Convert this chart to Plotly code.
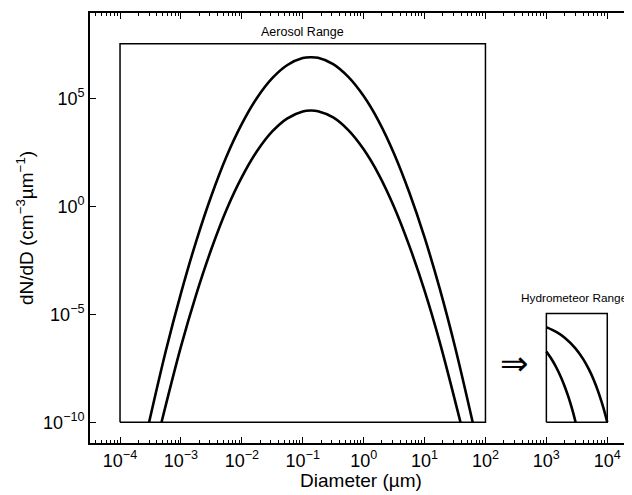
import math
import plotly.graph_objects as go

# ---- data (diameter in µm, dN/dD in cm^-3 µm^-1) ----
aer_upper_d = [3.0e-4, 5.6e-4, 1.0e-3, 1.78e-3, 3.16e-3, 5.6e-3, 1.0e-2, 1.78e-2, 3.16e-2,
               5.6e-2, 0.10, 0.136, 0.178, 0.316, 0.56, 1.0, 1.78, 3.16, 5.6, 10.0, 17.8, 31.6, 61.7]
aer_upper_n = [1e-10, 1.86e-7, 9.5e-5, 0.0245, 3.16, 209, 6760, 1.10e5, 8.9e5,
               3.63e6, 7.6e6, 8.3e6, 7.8e6, 4.0e6, 1.02e6, 1.32e5, 8710, 282, 4.57, 0.037, 1.51e-4, 3.16e-7, 1e-10]

aer_lower_d = [4.8e-4, 1.0e-3, 1.78e-3, 3.16e-3, 5.6e-3, 1.0e-2, 1.78e-2, 3.16e-2, 5.6e-2,
               0.10, 0.136, 0.178, 0.316, 0.56, 1.0, 1.78, 3.16, 5.6, 10.0, 17.8, 38.9]
aer_lower_n = [1e-10, 3.2e-7, 8.3e-5, 0.0107, 0.71, 22.9, 372, 3020, 1.23e4,
               2.57e4, 2.82e4, 2.63e4, 1.35e4, 3470, 447, 29.5, 0.955, 0.0155, 1.26e-4, 5.1e-7, 1e-10]

hyd_upper_d = [1000, 1500, 2000, 3000, 4000, 5000, 6000, 7000, 8000, 9000, 10000]
hyd_upper_n = [2.57e-6, 1.46e-6, 8.3e-7, 2.69e-7, 8.7e-8, 2.82e-8, 9.1e-9, 2.95e-9, 9.5e-10, 3.1e-10, 1e-10]

hyd_lower_d = [1000, 1250, 1500, 1750, 2000, 2250, 2500, 2750, 3020]
hyd_lower_n = [1.9e-7, 7.5e-8, 2.95e-8, 1.16e-8, 4.57e-9, 1.8e-9, 7.1e-10, 2.8e-10, 1e-10]

aerosol_box_x = [1e-4, 1e2]
aerosol_box_y = [1e-10, 3.5e7]
hydro_box_x = [1e3, 1e4]
hydro_box_y = [1e-10, 1.1e-5]

x_tick_exps = [-4, -3, -2, -1, 0, 1, 2, 3, 4]
y_tick_exps = [-10, -5, 0, 5]

# ---------------------------------------------------------------------------
FONT = "Liberation Sans, Arial, sans-serif"
fig = go.Figure()


def box_xy(bx, by):
    return ([bx[0], bx[1], bx[1], bx[0], bx[0]],
            [by[0], by[0], by[1], by[1], by[0]])


for bx, by in [(aerosol_box_x, aerosol_box_y), (hydro_box_x, hydro_box_y)]:
    xs, ys = box_xy(bx, by)
    fig.add_trace(go.Scatter(x=xs, y=ys, mode="lines",
                             line=dict(color="black", width=1.5),
                             hoverinfo="skip", showlegend=False))

for xs, ys in [(aer_upper_d, aer_upper_n), (aer_lower_d, aer_lower_n),
               (hyd_upper_d, hyd_upper_n), (hyd_lower_d, hyd_lower_n)]:
    fig.add_trace(go.Scatter(x=xs, y=ys, mode="lines",
                             line=dict(color="black", width=2.6, shape="spline", smoothing=1.0),
                             showlegend=False))


def sup(e):
    return "10<sup>" + ("\u2212" + str(-e) if e < 0 else str(e)) + "</sup>"


minor_x = [m * 10.0 ** k for k in range(-5, 5) for m in range(2, 10)]

fig.update_xaxes(
    type="log", range=[-4.493, 4.406],
    tickmode="array", tickvals=[10.0 ** e for e in x_tick_exps],
    ticktext=[sup(e) for e in x_tick_exps],
    ticks="inside", ticklen=6, tickwidth=1, tickcolor="black",
    minor=dict(tickmode="array", tickvals=minor_x, ticks="inside", ticklen=3,
               tickwidth=1, tickcolor="black", showgrid=False),
    showline=True, linecolor="black", linewidth=1.8, mirror="allticks",
    showgrid=False, zeroline=False,
    tickfont=dict(family=FONT, size=18, color="black"),
    title=dict(text="Diameter (\u00b5m)", font=dict(family=FONT, size=19, color="black"), standoff=0),
)
fig.update_yaxes(
    type="log", range=[-10.96, 8.97],
    tickmode="array", tickvals=[10.0 ** e for e in y_tick_exps],
    ticktext=[sup(e) for e in y_tick_exps],
    ticks="inside", ticklen=6, tickwidth=1, tickcolor="black",
    showline=True, linecolor="black", linewidth=1.8, mirror=False,
    showgrid=False, zeroline=False,
    tickfont=dict(family=FONT, size=18, color="black"),
    title=dict(text="dN/dD (cm<sup>\u22123</sup>\u00b5m<sup>\u22121</sup>)",
               font=dict(family=FONT, size=19, color="black"), standoff=4),
)

fig.add_annotation(x=-1.0, y=8.11, xref="x", yref="y", text="Aerosol Range",
                   showarrow=False, font=dict(family=FONT, size=12.5, color="black"))
fig.add_annotation(x=3.455, y=-4.23, xref="x", yref="y", text="Hydrometeor Range",
                   showarrow=False, font=dict(family=FONT, size=11.8, color="black"))
fig.add_annotation(x=2.47, y=-7.23, xref="x", yref="y", text="\u21d2",
                   showarrow=False, font=dict(family="DejaVu Sans", size=34, color="black"))

# the page adds an 8 px body margin, so margins are offset by 8 px
fig.update_layout(
    width=632, height=495,
    margin=dict(l=82, r=8, t=5, b=60, autoexpand=False),
    plot_bgcolor="white", paper_bgcolor="white",
    showlegend=False,
)

fig.write_html("out.html")
